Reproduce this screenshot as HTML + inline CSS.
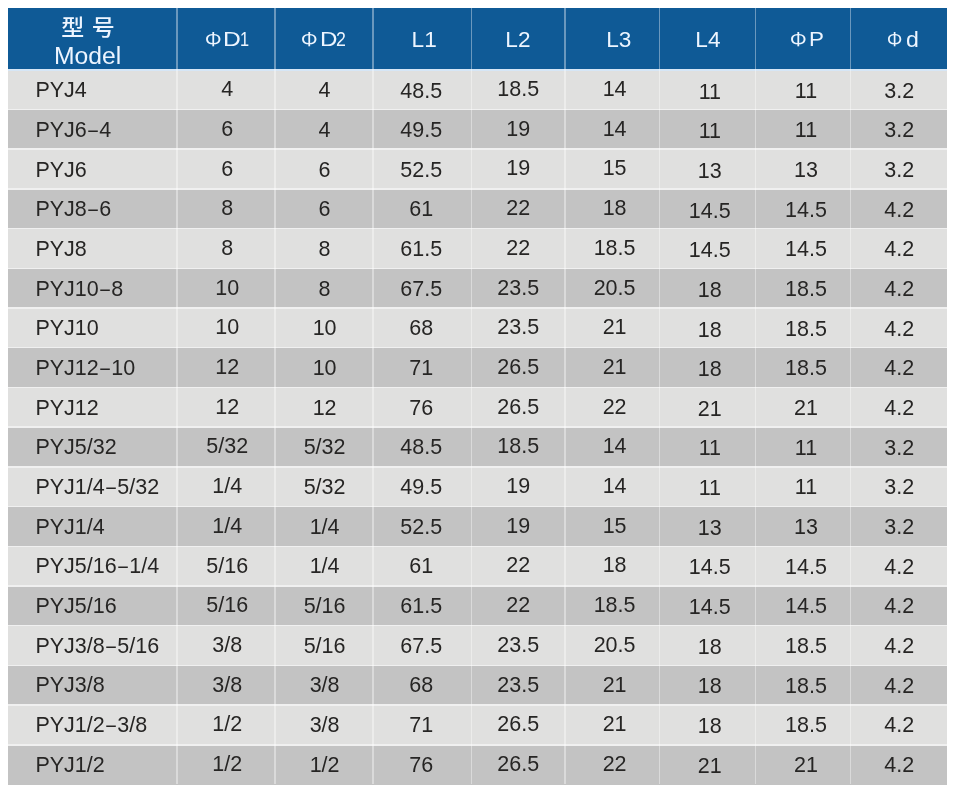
<!DOCTYPE html>
<html><head><meta charset="utf-8"><title>PYJ</title>
<style>
html,body{margin:0;padding:0;background:#fff;}
body{width:960px;height:797px;position:relative;overflow:hidden;font-family:"Liberation Sans","Noto Sans CJK SC",sans-serif;}
.r{position:absolute;left:7.5px;width:939.1px;}
.h{background:#0f5a96;}
.a{background:#e0e0df;}
.b{background:#c3c3c3;}
.v{position:absolute;top:8.2px;width:1.5px;height:776.3px;background:rgba(255,255,255,.38);}
.hl{position:absolute;left:7.5px;width:939.1px;height:1.5px;background:#f1f1f1;}
.t{position:absolute;white-space:nowrap;color:#262524;font-size:21.5px;line-height:24px;height:24px;transform:scaleX(1);}
.c{width:120px;margin-left:-60px;text-align:center;transform-origin:50% 50%;}
.l{transform-origin:0 50%;}
.w{color:#edf5ff;}
.d{display:inline-block;transform:scaleX(.8);margin:0 .3px;}
.p{font-family:"Noto Sans CJK SC","Liberation Sans",sans-serif;}
.g{position:absolute;line-height:1;color:#edf5ff;transform-origin:0 50%;white-space:nowrap;}
</style></head><body>

<div class="r h" style="top:8.2px;height:61.5px"></div>
<div class="r a" style="top:69.75px;height:39.76px"></div>
<div class="r b" style="top:109.46px;height:39.76px"></div>
<div class="r a" style="top:149.17px;height:39.76px"></div>
<div class="r b" style="top:188.88px;height:39.76px"></div>
<div class="r a" style="top:228.58px;height:39.76px"></div>
<div class="r b" style="top:268.29px;height:39.76px"></div>
<div class="r a" style="top:308.00px;height:39.76px"></div>
<div class="r b" style="top:347.71px;height:39.76px"></div>
<div class="r a" style="top:387.42px;height:39.76px"></div>
<div class="r b" style="top:427.12px;height:39.76px"></div>
<div class="r a" style="top:466.83px;height:39.76px"></div>
<div class="r b" style="top:506.54px;height:39.76px"></div>
<div class="r a" style="top:546.25px;height:39.76px"></div>
<div class="r b" style="top:585.96px;height:39.76px"></div>
<div class="r a" style="top:625.67px;height:39.76px"></div>
<div class="r b" style="top:665.38px;height:39.76px"></div>
<div class="r a" style="top:705.08px;height:39.76px"></div>
<div class="r b" style="top:744.79px;height:39.76px"></div>
<div class="hl" style="top:69.30px;background:#d6e6f6"></div>
<div class="hl" style="top:108.71px;background:#f0f0f0"></div>
<div class="hl" style="top:148.42px;background:#f0f0f0"></div>
<div class="hl" style="top:188.12px;background:#f0f0f0"></div>
<div class="hl" style="top:227.83px;background:#f0f0f0"></div>
<div class="hl" style="top:267.54px;background:#f0f0f0"></div>
<div class="hl" style="top:307.25px;background:#f0f0f0"></div>
<div class="hl" style="top:346.96px;background:#f0f0f0"></div>
<div class="hl" style="top:386.67px;background:#f0f0f0"></div>
<div class="hl" style="top:426.38px;background:#f0f0f0"></div>
<div class="hl" style="top:466.08px;background:#f0f0f0"></div>
<div class="hl" style="top:505.79px;background:#f0f0f0"></div>
<div class="hl" style="top:545.50px;background:#f0f0f0"></div>
<div class="hl" style="top:585.21px;background:#f0f0f0"></div>
<div class="hl" style="top:624.92px;background:#f0f0f0"></div>
<div class="hl" style="top:664.62px;background:#f0f0f0"></div>
<div class="hl" style="top:704.33px;background:#f0f0f0"></div>
<div class="hl" style="top:744.04px;background:#f0f0f0"></div>
<div class="v" style="left:176.2px"></div>
<div class="v" style="left:274.4px"></div>
<div class="v" style="left:372.4px"></div>
<div class="v" style="left:470.8px"></div>
<div class="v" style="left:564.1px"></div>
<div class="v" style="left:658.9px"></div>
<div class="v" style="left:754.9px"></div>
<div class="v" style="left:849.9px"></div>
<div class="t c w" style="left:87.9px;top:15.8px;font-size:21.8px;font-weight:500;word-spacing:1.2px;transform:scaleX(1.055)">型 号</div>
<div class="t c w" style="left:87.6px;top:44.3px;font-size:24.7px;transform:none">Model</div>
<div class="hd"><span class="g p" style="left:204.59px;top:29.37px;font-size:18.50px;transform:scaleX(1.111)">Φ</span><span class="g" style="left:223.38px;top:28.99px;font-size:20.80px;transform:scaleX(1.185)">D</span><span class="g" style="left:240.46px;top:28.99px;font-size:20.80px;transform:scaleX(0.784)">1</span><span class="g p" style="left:300.99px;top:29.37px;font-size:18.50px;transform:scaleX(1.111)">Φ</span><span class="g" style="left:319.72px;top:28.99px;font-size:20.80px;transform:scaleX(1.161)">D</span><span class="g" style="left:336.41px;top:28.99px;font-size:20.80px;transform:scaleX(0.855)">2</span><span class="g p" style="left:789.68px;top:29.37px;font-size:18.50px;transform:scaleX(1.118)">Φ</span><span class="g" style="left:808.57px;top:29.09px;font-size:20.80px;transform:scaleX(1.075)">P</span><span class="g p" style="left:887.48px;top:29.17px;font-size:18.50px;transform:scaleX(1.025)">Φ</span><span class="g" style="left:906.13px;top:28.65px;font-size:21.20px;transform:scaleX(1.091)">d</span></div>
<div class="t c w" style="left:424.2px;top:27.5px;font-size:22.6px">L1</div>
<div class="t c w" style="left:517.9px;top:27.5px;font-size:22.6px">L2</div>
<div class="t c w" style="left:618.8px;top:27.5px;font-size:22.6px">L3</div>
<div class="t c w" style="left:707.9px;top:27.5px;font-size:22.6px">L4</div>
<div class="t l" style="left:35.4px;top:78px">PYJ4</div>
<div class="t c" style="left:227.3px;top:77px">4</div>
<div class="t c" style="left:324.6px;top:78px">4</div>
<div class="t c" style="left:421.2px;top:79px">48.5</div>
<div class="t c" style="left:518.3px;top:77px">18.5</div>
<div class="t c" style="left:614.6px;top:77px">14</div>
<div class="t c" style="left:709.8px;top:80px">11</div>
<div class="t c" style="left:806.0px;top:79px">11</div>
<div class="t c" style="left:899.2px;top:79px">3.2</div>
<div class="t l" style="left:35.4px;top:118px">PYJ6<span class="d">–</span>4</div>
<div class="t c" style="left:227.3px;top:117px">6</div>
<div class="t c" style="left:324.6px;top:118px">4</div>
<div class="t c" style="left:421.2px;top:118px">49.5</div>
<div class="t c" style="left:518.3px;top:117px">19</div>
<div class="t c" style="left:614.6px;top:117px">14</div>
<div class="t c" style="left:709.8px;top:119px">11</div>
<div class="t c" style="left:806.0px;top:118px">11</div>
<div class="t c" style="left:899.2px;top:118px">3.2</div>
<div class="t l" style="left:35.4px;top:158px">PYJ6</div>
<div class="t c" style="left:227.3px;top:157px">6</div>
<div class="t c" style="left:324.6px;top:158px">6</div>
<div class="t c" style="left:421.2px;top:158px">52.5</div>
<div class="t c" style="left:518.3px;top:156px">19</div>
<div class="t c" style="left:614.6px;top:156px">15</div>
<div class="t c" style="left:709.8px;top:159px">13</div>
<div class="t c" style="left:806.0px;top:158px">13</div>
<div class="t c" style="left:899.2px;top:158px">3.2</div>
<div class="t l" style="left:35.4px;top:197px">PYJ8<span class="d">–</span>6</div>
<div class="t c" style="left:227.3px;top:196px">8</div>
<div class="t c" style="left:324.6px;top:197px">6</div>
<div class="t c" style="left:421.2px;top:197px">61</div>
<div class="t c" style="left:518.3px;top:196px">22</div>
<div class="t c" style="left:614.6px;top:196px">18</div>
<div class="t c" style="left:709.8px;top:199px">14.5</div>
<div class="t c" style="left:806.0px;top:198px">14.5</div>
<div class="t c" style="left:899.2px;top:198px">4.2</div>
<div class="t l" style="left:35.4px;top:237px">PYJ8</div>
<div class="t c" style="left:227.3px;top:236px">8</div>
<div class="t c" style="left:324.6px;top:237px">8</div>
<div class="t c" style="left:421.2px;top:237px">61.5</div>
<div class="t c" style="left:518.3px;top:236px">22</div>
<div class="t c" style="left:614.6px;top:236px">18.5</div>
<div class="t c" style="left:709.8px;top:238px">14.5</div>
<div class="t c" style="left:806.0px;top:237px">14.5</div>
<div class="t c" style="left:899.2px;top:237px">4.2</div>
<div class="t l" style="left:35.4px;top:277px">PYJ10<span class="d">–</span>8</div>
<div class="t c" style="left:227.3px;top:276px">10</div>
<div class="t c" style="left:324.6px;top:277px">8</div>
<div class="t c" style="left:421.2px;top:277px">67.5</div>
<div class="t c" style="left:518.3px;top:276px">23.5</div>
<div class="t c" style="left:614.6px;top:276px">20.5</div>
<div class="t c" style="left:709.8px;top:278px">18</div>
<div class="t c" style="left:806.0px;top:277px">18.5</div>
<div class="t c" style="left:899.2px;top:277px">4.2</div>
<div class="t l" style="left:35.4px;top:316px">PYJ10</div>
<div class="t c" style="left:227.3px;top:315px">10</div>
<div class="t c" style="left:324.6px;top:316px">10</div>
<div class="t c" style="left:421.2px;top:316px">68</div>
<div class="t c" style="left:518.3px;top:315px">23.5</div>
<div class="t c" style="left:614.6px;top:315px">21</div>
<div class="t c" style="left:709.8px;top:318px">18</div>
<div class="t c" style="left:806.0px;top:317px">18.5</div>
<div class="t c" style="left:899.2px;top:317px">4.2</div>
<div class="t l" style="left:35.4px;top:356px">PYJ12<span class="d">–</span>10</div>
<div class="t c" style="left:227.3px;top:355px">12</div>
<div class="t c" style="left:324.6px;top:356px">10</div>
<div class="t c" style="left:421.2px;top:356px">71</div>
<div class="t c" style="left:518.3px;top:355px">26.5</div>
<div class="t c" style="left:614.6px;top:355px">21</div>
<div class="t c" style="left:709.8px;top:357px">18</div>
<div class="t c" style="left:806.0px;top:356px">18.5</div>
<div class="t c" style="left:899.2px;top:356px">4.2</div>
<div class="t l" style="left:35.4px;top:396px">PYJ12</div>
<div class="t c" style="left:227.3px;top:395px">12</div>
<div class="t c" style="left:324.6px;top:396px">12</div>
<div class="t c" style="left:421.2px;top:396px">76</div>
<div class="t c" style="left:518.3px;top:395px">26.5</div>
<div class="t c" style="left:614.6px;top:395px">22</div>
<div class="t c" style="left:709.8px;top:397px">21</div>
<div class="t c" style="left:806.0px;top:396px">21</div>
<div class="t c" style="left:899.2px;top:396px">4.2</div>
<div class="t l" style="left:35.4px;top:435px">PYJ5/32</div>
<div class="t c" style="left:227.3px;top:434px">5/32</div>
<div class="t c" style="left:324.6px;top:435px">5/32</div>
<div class="t c" style="left:421.2px;top:435px">48.5</div>
<div class="t c" style="left:518.3px;top:434px">18.5</div>
<div class="t c" style="left:614.6px;top:434px">14</div>
<div class="t c" style="left:709.8px;top:436px">11</div>
<div class="t c" style="left:806.0px;top:436px">11</div>
<div class="t c" style="left:899.2px;top:436px">3.2</div>
<div class="t l" style="left:35.4px;top:475px">PYJ1/4<span class="d">–</span>5/32</div>
<div class="t c" style="left:227.3px;top:474px">1/4</div>
<div class="t c" style="left:324.6px;top:475px">5/32</div>
<div class="t c" style="left:421.2px;top:475px">49.5</div>
<div class="t c" style="left:518.3px;top:474px">19</div>
<div class="t c" style="left:614.6px;top:474px">14</div>
<div class="t c" style="left:709.8px;top:476px">11</div>
<div class="t c" style="left:806.0px;top:475px">11</div>
<div class="t c" style="left:899.2px;top:475px">3.2</div>
<div class="t l" style="left:35.4px;top:515px">PYJ1/4</div>
<div class="t c" style="left:227.3px;top:514px">1/4</div>
<div class="t c" style="left:324.6px;top:515px">1/4</div>
<div class="t c" style="left:421.2px;top:515px">52.5</div>
<div class="t c" style="left:518.3px;top:514px">19</div>
<div class="t c" style="left:614.6px;top:514px">15</div>
<div class="t c" style="left:709.8px;top:516px">13</div>
<div class="t c" style="left:806.0px;top:515px">13</div>
<div class="t c" style="left:899.2px;top:515px">3.2</div>
<div class="t l" style="left:35.4px;top:554px">PYJ5/16<span class="d">–</span>1/4</div>
<div class="t c" style="left:227.3px;top:554px">5/16</div>
<div class="t c" style="left:324.6px;top:554px">1/4</div>
<div class="t c" style="left:421.2px;top:554px">61</div>
<div class="t c" style="left:518.3px;top:553px">22</div>
<div class="t c" style="left:614.6px;top:553px">18</div>
<div class="t c" style="left:709.8px;top:555px">14.5</div>
<div class="t c" style="left:806.0px;top:555px">14.5</div>
<div class="t c" style="left:899.2px;top:555px">4.2</div>
<div class="t l" style="left:35.4px;top:594px">PYJ5/16</div>
<div class="t c" style="left:227.3px;top:593px">5/16</div>
<div class="t c" style="left:324.6px;top:594px">5/16</div>
<div class="t c" style="left:421.2px;top:594px">61.5</div>
<div class="t c" style="left:518.3px;top:593px">22</div>
<div class="t c" style="left:614.6px;top:593px">18.5</div>
<div class="t c" style="left:709.8px;top:595px">14.5</div>
<div class="t c" style="left:806.0px;top:594px">14.5</div>
<div class="t c" style="left:899.2px;top:594px">4.2</div>
<div class="t l" style="left:35.4px;top:634px">PYJ3/8<span class="d">–</span>5/16</div>
<div class="t c" style="left:227.3px;top:633px">3/8</div>
<div class="t c" style="left:324.6px;top:634px">5/16</div>
<div class="t c" style="left:421.2px;top:634px">67.5</div>
<div class="t c" style="left:518.3px;top:633px">23.5</div>
<div class="t c" style="left:614.6px;top:633px">20.5</div>
<div class="t c" style="left:709.8px;top:635px">18</div>
<div class="t c" style="left:806.0px;top:634px">18.5</div>
<div class="t c" style="left:899.2px;top:634px">4.2</div>
<div class="t l" style="left:35.4px;top:673px">PYJ3/8</div>
<div class="t c" style="left:227.3px;top:673px">3/8</div>
<div class="t c" style="left:324.6px;top:673px">3/8</div>
<div class="t c" style="left:421.2px;top:673px">68</div>
<div class="t c" style="left:518.3px;top:673px">23.5</div>
<div class="t c" style="left:614.6px;top:673px">21</div>
<div class="t c" style="left:709.8px;top:674px">18</div>
<div class="t c" style="left:806.0px;top:674px">18.5</div>
<div class="t c" style="left:899.2px;top:674px">4.2</div>
<div class="t l" style="left:35.4px;top:713px">PYJ1/2<span class="d">–</span>3/8</div>
<div class="t c" style="left:227.3px;top:712px">1/2</div>
<div class="t c" style="left:324.6px;top:713px">3/8</div>
<div class="t c" style="left:421.2px;top:713px">71</div>
<div class="t c" style="left:518.3px;top:712px">26.5</div>
<div class="t c" style="left:614.6px;top:712px">21</div>
<div class="t c" style="left:709.8px;top:714px">18</div>
<div class="t c" style="left:806.0px;top:713px">18.5</div>
<div class="t c" style="left:899.2px;top:713px">4.2</div>
<div class="t l" style="left:35.4px;top:753px">PYJ1/2</div>
<div class="t c" style="left:227.3px;top:752px">1/2</div>
<div class="t c" style="left:324.6px;top:753px">1/2</div>
<div class="t c" style="left:421.2px;top:753px">76</div>
<div class="t c" style="left:518.3px;top:752px">26.5</div>
<div class="t c" style="left:614.6px;top:752px">22</div>
<div class="t c" style="left:709.8px;top:754px">21</div>
<div class="t c" style="left:806.0px;top:753px">21</div>
<div class="t c" style="left:899.2px;top:753px">4.2</div>
</body></html>
